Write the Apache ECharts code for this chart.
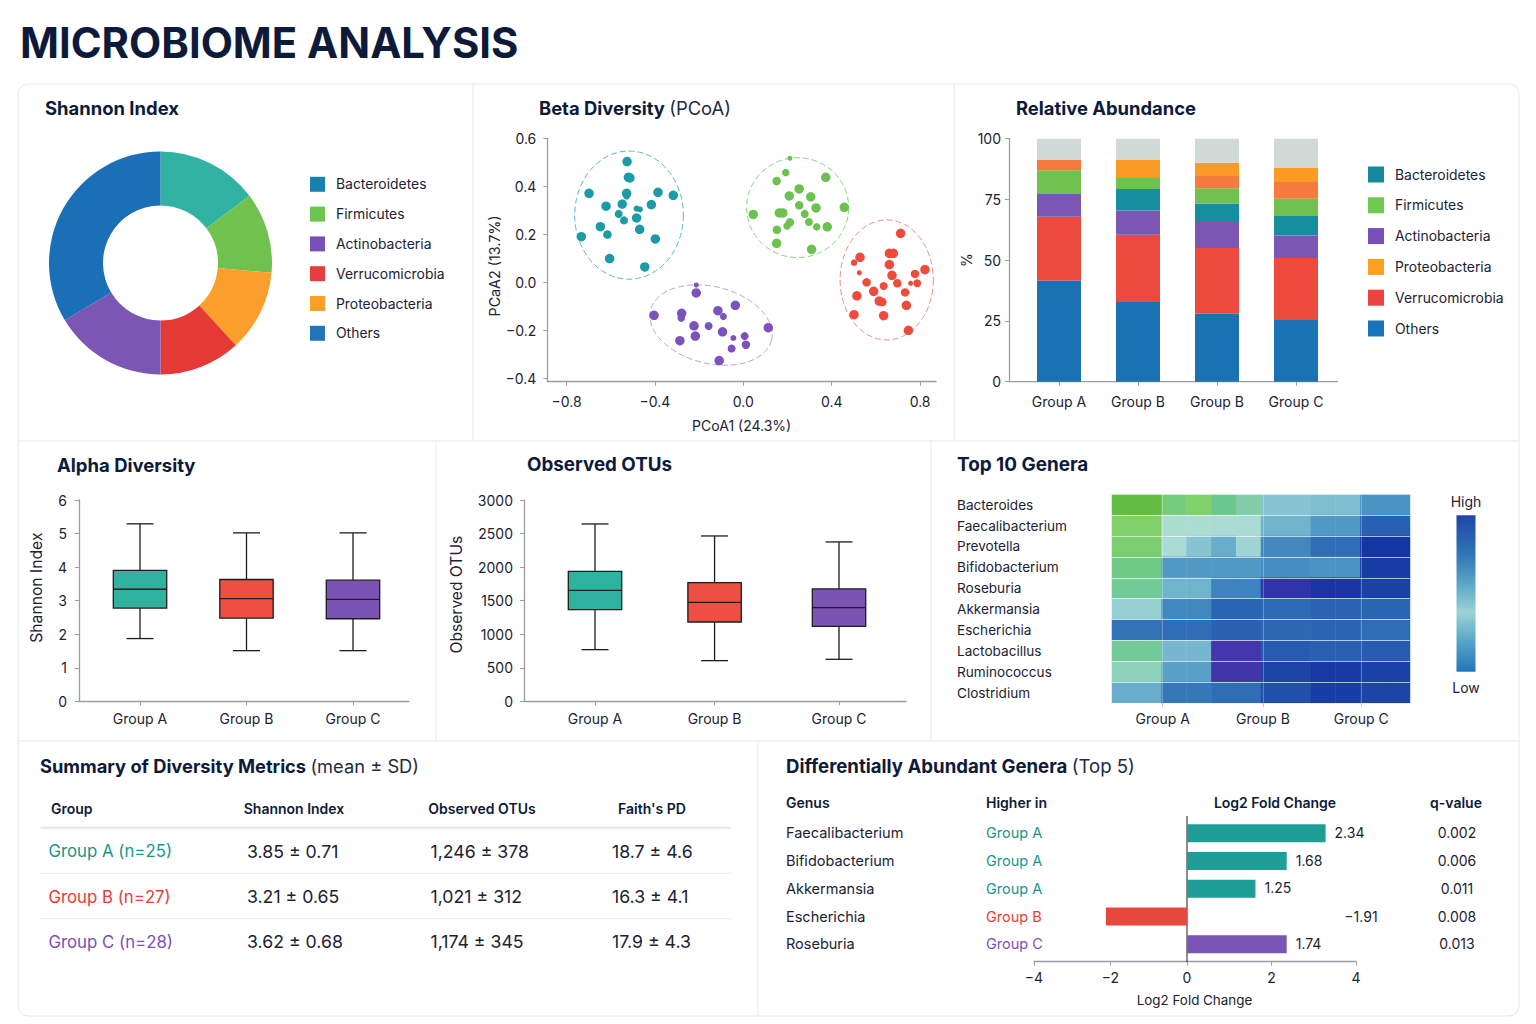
<!DOCTYPE html>
<html><head><meta charset="utf-8">
<style>html,body{margin:0;padding:0;background:#fff}#c{width:1536px;height:1024px}</style>
<script src="https://cdn.jsdelivr.net/npm/echarts@6/dist/echarts.min.js"></script>
</head><body><div id="c"></div>
<script>
// ---------- data ----------
const groups3 = ['Group A','Group B','Group C'];
const groups4 = ['Group A','Group B','Group B','Group C'];
const pieNames = ['Bacteroidetes','Firmicutes','Proteobacteria','Verrucomicrobia','Actinobacteria','Others'];
const pieValues = [14.7,11.7,11.8,11.8,16.4,33.6];
const pieLegend = ['Bacteroidetes','Firmicutes','Actinobacteria','Verrucomicrobia','Proteobacteria','Others'];
const barLegend = ['Bacteroidetes','Firmicutes','Actinobacteria','Proteobacteria','Verrucomicrobia','Others'];

// x, y (a third entry marks a smaller dot)
const betaTeal = [[-.526,.503],[-.52,.4375],[-.513,.435],[-.698,.371],[-.528,.371],[-.528,.36,7],[-.386,.375],[-.317,.3625],[-.621,.317],[-.548,.326],[-.416,.324],[-.564,.285,8],[-.54,.258,8],[-.483,.268],[-.483,.307,6],[-.468,.304,6],[-.647,.232],[-.615,.199,8.5],[-.733,.19],[-.469,.221],[-.398,.181],[-.605,.099],[-.446,.064]];
const betaGreen = [[.211,.517,5],[.192,.457,7.5],[.151,.422,8.5],[.373,.4375],[.253,.389],[.208,.36],[.305,.356],[.253,.321,8.5],[.329,.31],[.457,.3125],[.045,.283],[.163,.289],[.179,.289],[.278,.285,8],[.297,.251,8],[.211,.25,8.5],[.198,.235,7.5],[.332,.231,7.5],[.38,.231],[.152,.219,8.5],[.151,.1625],[.309,.1375]];
const betaPurple = [[-.213,-.011,5],[-.213,-.044],[-.036,-.096],[-.115,-.118],[-.404,-.1375],[-.279,-.129],[-.281,-.149,7.5],[-.09,-.142,7],[-.223,-.181],[-.157,-.182,8],[-.094,-.206],[.113,-.189],[-.217,-.224],[-.287,-.243],[.006,-.224,8],[-.045,-.232,6],[.012,-.26,8.5],[-.053,-.276,8],[-.109,-.326]];
const betaRed = [[.712,.204],[.661,.121],[.679,.121],[.528,.104],[.501,.082,6.5],[.661,.074],[.525,.04,5],[.673,.029],[.822,.053],[.777,.035,8.5],[.558,0,8.5],[.697,-.004,8.5],[.787,-.004,8],[.757,-.004,5],[.635,-.015,8],[.59,-.0375],[.732,-.042,8.5],[.514,-.056],[.615,-.078],[.629,-.082,8.5],[.738,-.096],[.501,-.135],[.635,-.139],[.747,-.2]];
// ellipse: centre x, centre y, x radius, y radius, tilt (deg)
const betaEllipses = [[-.517,.28,.246,.267,0],[.246,.311,.231,.208,0],[-.146,-.178,.282,.16,14],[.649,.01,.211,.25,0]];

const stackOthers = [41.6,32.8,28,25.4];
const stackVerruco = [26.3,27.7,27,25.5];
const stackActino = [9.3,10,10.7,9.3];
const stackBactero = [0,8.8,7.6,8];
const stackFirmi = [9.8,4.5,6.3,7.1];
const stackCoral = [4.2,0,5,6.9];
const stackProteo = [0,7.6,5.5,5.9];
const stackRest = [8.8,8.6,9.9,11.9];

// [slot on the axis, min, Q1, median, Q3, max]
const alphaBoxes = [[0,1.87,2.78,3.34,3.9,5.29],[1,1.51,2.48,3.06,3.63,5.02],[2,1.51,2.46,3.04,3.61,5.02]];
const otuBoxes = [[0,770,1366,1654,1937,2643],[.98,606,1182,1475,1768,2464],[2,626,1118,1396,1674,2375]];

const genera = ['Bacteroides','Faecalibacterium','Prevotella','Bifidobacterium','Roseburia','Akkermansia','Escherichia','Lactobacillus','Ruminococcus','Clostridium'];
const heatRows = [
 [0,0,15,10,20,26,52,52,55,55,70,70],
 [10,10,38,38,42,42,60,60,68,68,90,90],
 [12,12,42,52,62,45,74,74,84,84,108,108],
 [18,18,68,68,68,68,72,72,70,70,105,105],
 [22,22,60,60,76,76,116,116,112,112,102,102],
 [47,47,74,74,88,88,86,86,89,89,88,88],
 [82,82,84,84,90,90,87,87,88,88,84,84],
 [22,22,58,58,120,120,92,92,90,90,92,92],
 [30,30,66,66,119,119,100,100,106,106,102,102],
 [62,62,80,80,84,84,96,96,104,104,100,100]];
const heatRamp = ['#62bd45','#7fd16a','#6bc88c','#8fd2bc','#b2e1d6','#8cc8d0','#6fb3cd','#4a93c3','#3478b9','#2860b2','#1c45a6','#1232a0','#4536ab'];

const summaryHead = ['Group','Shannon Index','Observed OTUs',"Faith's PD"];
const summaryGroups = ['Group A (n=25)','Group B (n=27)','Group C (n=28)'];
const summaryShannon = ['3.85 ± 0.71','3.21 ± 0.65','3.62 ± 0.68'];
const summaryOtus = ['1,246 ± 378','1,021 ± 312','1,174 ± 345'];
const summaryFaith = ['18.7 ± 4.6','16.3 ± 4.1','17.9 ± 4.3'];

const foldGenera = ['Faecalibacterium','Bifidobacterium','Akkermansia','Escherichia','Roseburia'];
const foldHigher = ['Group A','Group A','Group A','Group B','Group C'];
const foldLabels = ['2.34','1.68','1.25','−1.91','1.74'];
const foldQ = ['0.002','0.006','0.011','0.008','0.013'];
const foldPositive = [3.28,2.36,1.62,null,2.36];
const foldNegative = [null,null,null,-2.12,null];

// ---------- style ----------
const F = 'Inter, "Noto Sans", sans-serif';
const INK = '#0d1a3a', TXT = '#1c2233', AXIS = '#9a9da3', RULE = '#e6e9ee';
const groupText = {'Group A':'#16978c','Group B':'#ee3a35','Group C':'#7a4fc0'};
const boxFill = ['#2fb3a0','#ef4e42','#7a53b5'];
const foldFill = {'Group A':'#1f9e97','Group B':'#e8473e','Group C':'#7a55b5'};

function title(text,x,y,size,rich){
  return {text,left:x,top:y-size*0.7,padding:0,itemGap:0,
    textStyle:{fontFamily:F,fontSize:size,fontWeight:650,color:INK,lineHeight:size*1.4,
      rich:rich?{b:{fontFamily:F,fontSize:size,fontWeight:650,color:INK,lineHeight:size*1.4},
                 n:{fontFamily:F,fontSize:size,fontWeight:400,color:'#22293d',lineHeight:size*1.4}}:undefined}};
}
function txt(text,x,y,size,fill,weight,align){
  return {type:'text',z:5,silent:true,style:{text,x,y:y-0.8,fill:fill||TXT,
    font:(weight||400)+' '+size+'px '+F,align:align||'left',verticalAlign:'middle',textAlign:align||'left',textVerticalAlign:'middle'}};
}
function rule(x1,y1,x2,y2,color,w){
  return {type:'line',z:1,silent:true,shape:{x1,y1,x2,y2},style:{stroke:color||RULE,lineWidth:w||1}};
}
function gridAt(l,t,r,b){return {left:l,top:t,width:r-l,height:b-t,containLabel:false};}
const lab = {color:TXT,fontFamily:F,fontSize:14};
const line = {show:true,onZero:false,lineStyle:{color:AXIS,width:1.3}};
const tick = {show:true,length:4,lineStyle:{color:AXIS,width:1}};
const axName = (size,pad) => ({color:TXT,fontFamily:F,fontSize:size,padding:pad||0});

function valueX(grid,min,max,custom,fmt,margin,extra){
  return Object.assign({type:'value',gridIndex:grid,min,max,splitLine:{show:false},
    axisLine:line,axisTick:Object.assign({},tick,{customValues:custom}),
    axisLabel:Object.assign({},lab,{customValues:custom,formatter:fmt,margin,hideOverlap:false,showMinLabel:true,showMaxLabel:true})},extra||{});
}
function valueY(grid,min,max,custom,fmt,margin,extra){
  return Object.assign({type:'value',gridIndex:grid,min,max,splitLine:{show:false},
    axisLine:line,axisTick:Object.assign({},tick,{customValues:custom}),
    axisLabel:Object.assign({},lab,{customValues:custom,formatter:fmt,margin,padding:[0,0,2,0],showMinLabel:true,showMaxLabel:true})},extra||{});
}
const minus = v => String(v).replace('-','−');

function boxSeries(data,xi,yi,name){
  return {type:'custom',name,xAxisIndex:xi,yAxisIndex:yi,data,
    encode:{x:0,y:[1,2,3,4,5]},
    renderItem(p,api){
      const x=api.value(0), pt=i=>api.coord([x,api.value(i)]);
      const lo=pt(1),q1=pt(2),me=pt(3),q3=pt(4),hi=pt(5), c=lo[0], hw=26.7, cap=13.5;
      const s={stroke:'#1d1d1f',lineWidth:1.3,fill:null};
      const ln=(a,b,d,e)=>({type:'line',shape:{x1:a,y1:b,x2:d,y2:e},style:s});
      return {type:'group',children:[
        ln(c,hi[1],c,q3[1]),ln(c,q1[1],c,lo[1]),ln(c-cap,hi[1],c+cap,hi[1]),ln(c-cap,lo[1],c+cap,lo[1]),
        {type:'rect',shape:{x:c-hw,y:q3[1],width:2*hw,height:q1[1]-q3[1]},style:{fill:boxFill[p.dataIndex],stroke:'#1d1d1f',lineWidth:1.3}},
        ln(c-hw,me[1],c+hw,me[1])
      ]};
    }};
}
function scatter(name,data,color){
  return {type:'scatter',name,xAxisIndex:0,yAxisIndex:0,data,symbolSize:v=>v[2]||9.5,itemStyle:{color,opacity:1},z:4,legendHoverLink:false};
}
const ellipseColors = ['#55bcbc','#86d67f','#b9a0e2','#f28c82'];
function stack(name,data,color){
  return {type:'bar',name,stack:'s',xAxisIndex:1,yAxisIndex:1,data,barWidth:44,itemStyle:{color}};
}

// ---------- table & frame graphics ----------
const gfx = [
  {type:'rect',z:0,silent:true,shape:{x:18,y:84,width:1501,height:932,r:10},style:{fill:'#fff',stroke:'#e4e8ed',lineWidth:1}},
  rule(18,441,1519,441), rule(18,741,1519,741),
  rule(473,84,473,441), rule(954,84,954,441),
  rule(436,441,436,741), rule(931,441,931,741),
  rule(758,741,758,1016),
  // extended x axis of the stacked bars
  rule(1009,381.7,1338,381.7,AXIS,1.3),
  // colour bar
  {type:'rect',z:2,silent:true,shape:{x:1456.5,y:515.3,width:19,height:156.4},
   style:{fill:new echarts.graphic.LinearGradient(0,0,0,1,[
     {offset:0,color:'#1f45a8'},{offset:.25,color:'#2f76b5'},{offset:.45,color:'#5fa9c8'},
     {offset:.62,color:'#9ad3d4'},{offset:.8,color:'#5ba6c8'},{offset:1,color:'#2275b9'}])}},
  txt('High',1466,502,14,TXT,400,'center'), txt('Low',1466,688.5,14,TXT,400,'center'),
  // summary table
  rule(40.5,827.7,731,827.7,'#e3e6ea',2), rule(40.5,873.3,731,873.3,'#e8eaf0',1), rule(40.5,918.7,731,918.7,'#e8eaf0',1),
  // fold-change zero line
  rule(1187,816,1187,962,'#1d1d1f',1),
  txt('Log2 Fold Change',1194.5,1000.5,13.4,TXT,400,'center'),
  txt('Genus',786,803,14,INK,600), txt('Higher in',986,803,14,INK,600),
  txt('Log2 Fold Change',1275,803,14,INK,600,'center'), txt('q-value',1456,803,14,INK,600,'center')
];
const headX = [51,294,482,652], headAlign = ['left','center','center','center'];
summaryHead.forEach((h,i)=>gfx.push(txt(h,headX[i],809.3,14,INK,600,headAlign[i])));
const rowY = [852,897.5,942.5];
summaryGroups.forEach((g,i)=>{
  gfx.push(txt(g,48.5,rowY[i],16.8,groupText[groups3[i]]));
  gfx.push(txt(summaryShannon[i],247,rowY[i],17.7));
  gfx.push(txt(summaryOtus[i],430.5,rowY[i],17.7));
  gfx.push(txt(summaryFaith[i],612,rowY[i],17.7));
});
const foldY = [833,861,889,917,944];
foldGenera.forEach((g,i)=>{
  gfx.push(txt(g,786,foldY[i],14.5));
  gfx.push(txt(foldHigher[i],986,foldY[i],14.5,groupText[foldHigher[i]]));
  gfx.push(txt(foldQ[i],1457,foldY[i],14,TXT,400,'center'));
});
gfx.push(txt(foldLabels[3],1361,foldY[3],14,TXT,400,'center'));

// ---------- option ----------
const heatCells = [];
heatRows.forEach((r,y)=>r.forEach((v,x)=>heatCells.push([x,y,v])));
const heatCols = heatRows[0].map((_,i)=>String(i));

const pieColors = ['#31b2a2','#70c24e','#fb9e2b','#e53935','#7b56b5','#1a6fb7'];
const legendPie = {Bacteroidetes:'#1a80b0',Firmicutes:'#6cc551',Actinobacteria:'#7a50b8',Verrucomicrobia:'#e53c3c',Proteobacteria:'#fb9f2a',Others:'#2176bb'};
const legendBar = {Bacteroidetes:'#17899e',Firmicutes:'#6ccb50',Actinobacteria:'#7650b6',Proteobacteria:'#ff9f22',Verrucomicrobia:'#eb4141',Others:'#1a72b8'};
function legend(names,colors,x,y,step,sz){
  return {orient:'vertical',left:x,top:y,padding:0,itemWidth:sz,itemHeight:sz,itemGap:step-sz,selectedMode:false,icon:'rect',
    data:names.map(n=>({name:n,icon:'rect',itemStyle:{color:colors[n],opacity:1}})),
    textStyle:{color:TXT,fontFamily:F,fontSize:13.9,padding:[0,0,0,6]}};
}

const option = {
  backgroundColor:'#fff', animation:false,
  textStyle:{fontFamily:F},
  title:[
    title('MICROBIOME ANALYSIS',20,43,41.8),
    title('Shannon Index',45,108,18.45),
    title('{b|Beta Diversity} {n|(PCoA)}',539,108,18.4,true),
    title('Relative Abundance',1016,108,18.4),
    title('Alpha Diversity',57,465,18.5),
    title('Observed OTUs',527,465,18.8),
    title('Top 10 Genera',957,465,18.9),
    title('{b|Summary of Diversity Metrics} {n|(mean ± SD)}',40,766,18.3,true),
    title('{b|Differentially Abundant Genera} {n|(Top 5)}',786,766,18.6,true)
  ],
  legend:[ legend(pieLegend,legendPie,310,176.8,29.8,15), legend(barLegend,legendBar,1368,166.5,30.8,16) ],
  grid:[ gridAt(547.3,138.3,936,381.7), gridAt(1019.5,138.7,1335.5,381.7), gridAt(79,500,409,701.3), gridAt(524,500,906,701.3),
         gridAt(1112,494.3,1410,703), gridAt(1034,819.5,1187,958), gridAt(1187,819.5,1356,958) ],
  xAxis:[
    valueX(0,-.887,.872,[-.8,-.4,0,.4,.8],v=>minus(v.toFixed(1)),13,{name:'PCoA1 (24.3%)',nameLocation:'center',nameGap:37,nameTextStyle:axName(14)}),
    {type:'category',gridIndex:1,data:groups4,axisLine:{show:false},axisTick:Object.assign({},tick,{alignWithLabel:true}),axisLabel:Object.assign({},lab,{margin:13})},
    valueX(2,-.573,2.526,[0,1,2],v=>groups3[v],10),
    valueX(3,-.582,2.549,[0,.98,2],v=>groups3[Math.round(v)],10),
    {type:'category',gridIndex:4,data:heatCols,axisLine:{show:false},axisTick:{show:false},axisLabel:{show:false}},
    {type:'value',gridIndex:4,min:0,max:6,interval:1,position:'bottom',z:5,axisLine:{show:false},
     splitLine:{show:true,lineStyle:{color:'rgba(255,255,255,.28)',width:1}},
     axisTick:{show:true,length:4,lineStyle:{color:'#c4c7cc'},customValues:[1.02,3.04,5.02]},
     axisLabel:Object.assign({},lab,{customValues:[1.02,3.04,5.02],formatter:v=>groups3[Math.round((v-1)/2)],margin:8})},
    valueX(5,-4,0,[-4,-2],v=>minus(v),9,{offset:3.7}),
    valueX(6,0,4,[0,2,4],v=>String(v),9,{offset:3.7})
  ],
  yAxis:[
    valueY(0,-.414,.6,[-.4,-.2,0,.2,.4,.6],v=>minus(v.toFixed(1)),11,{name:'PCaA2 (13.7%)',nameLocation:'center',nameGap:45,nameTextStyle:axName(14.3,[0,12,0,0])}),
    valueY(1,0,100,[0,25,50,75,100],v=>String(v),8,{offset:10.5,name:'%',nameLocation:'center',nameGap:30,nameTextStyle:axName(14)}),
    valueY(2,0,6,[0,1,2,3,4,5,6],v=>String(v),12,{name:'Shannon Index',nameLocation:'center',nameGap:35,nameTextStyle:axName(15.7,[0,0,0,26])}),
    valueY(3,0,3000,[0,500,1000,1500,2000,2500,3000],v=>String(v),11,{name:'Observed OTUs',nameLocation:'center',nameGap:60,nameTextStyle:axName(15.6,[0,0,0,12])}),
    {type:'category',gridIndex:4,inverse:true,data:genera,z:5,axisLine:{show:false},axisTick:{show:false},
     splitLine:{show:true,lineStyle:{color:'rgba(255,255,255,.65)',width:1}},
     axisLabel:Object.assign({},lab,{fontSize:13.6,align:'left',margin:155})},
    {type:'category',gridIndex:5,inverse:true,data:foldGenera,show:false},
    {type:'category',gridIndex:6,inverse:true,data:foldGenera,show:false}
  ],
  visualMap:[{type:'continuous',show:false,seriesIndex:[9],min:0,max:120,inRange:{color:heatRamp}}],
  graphic:{elements:gfx},
  series:[
    // 0 pie
    {type:'pie',center:[160.5,263],radius:[57.5,111.5],startAngle:90,clockwise:true,label:{show:false},labelLine:{show:false},
     data:pieNames.map((n,i)=>({name:n,value:pieValues[i],itemStyle:{color:pieColors[i]}}))},
    // 1 ellipses
    {type:'custom',xAxisIndex:0,yAxisIndex:0,data:betaEllipses,z:3,clip:false,
     encode:{x:0,y:1},
     renderItem(p,api){
       const c=api.coord([api.value(0),api.value(1)]);
       const sz=api.size([api.value(2),api.value(3)]);
       const a=api.value(4)*Math.PI/180, pts=[];
       for(let i=0;i<=96;i++){const t=i/96*2*Math.PI,ex=sz[0]*Math.cos(t),ey=sz[1]*Math.sin(t);
         pts.push([c[0]+ex*Math.cos(a)-ey*Math.sin(a),c[1]+ex*Math.sin(a)+ey*Math.cos(a)]);}
       return {type:'polyline',shape:{points:pts},style:{fill:null,stroke:ellipseColors[p.dataIndex],lineWidth:1,lineDash:[6,3]}};
     }},
    scatter('Teal cluster',betaTeal,'#1a9ba5'),
    scatter('Green cluster',betaGreen,'#6cc24f'),
    scatter('Purple cluster',betaPurple,'#7c52bd'),
    scatter('Red cluster',betaRed,'#ee4b3c'),
    // 6,7 box plots
    boxSeries(alphaBoxes,2,2,'Shannon Index'),
    boxSeries(otuBoxes,3,3,'Observed OTUs'),
    // 8 fold bar, 9 heat map
    {type:'bar',name:'Log2 FC (down)',xAxisIndex:6,yAxisIndex:5,data:foldNegative,barWidth:18,z:2,
     itemStyle:{color:p=>foldFill[foldHigher[p.dataIndex]]}},
    {type:'heatmap',xAxisIndex:4,yAxisIndex:4,data:heatCells,z:2,itemStyle:{borderWidth:0}},
    {type:'bar',name:'Log2 FC (up)',xAxisIndex:7,yAxisIndex:6,data:foldPositive,barWidth:18,z:2,
     itemStyle:{color:p=>foldFill[foldHigher[p.dataIndex]]},
     label:{show:true,position:'right',distance:9,offset:[0,-1],color:TXT,fontFamily:F,fontSize:14,formatter:p=>foldLabels[p.dataIndex]}},
    stack('Others',stackOthers,'#1a72b5'),
    stack('Verrucomicrobia',stackVerruco,'#ec4a3c'),
    stack('Actinobacteria',stackActino,'#7b57b3'),
    stack('Bacteroidetes',stackBactero,'#178da0'),
    stack('Firmicutes',stackFirmi,'#70c250'),
    stack('Coral band',stackCoral,'#f47a3e'),
    stack('Proteobacteria',stackProteo,'#fb9a25'),
    stack('Remainder',stackRest,'#cfdad6')
  ]
};
const chart = echarts.init(document.getElementById('c'),null,{renderer:'svg',width:1536,height:1024});
chart.setOption(option);
</script></body></html>
